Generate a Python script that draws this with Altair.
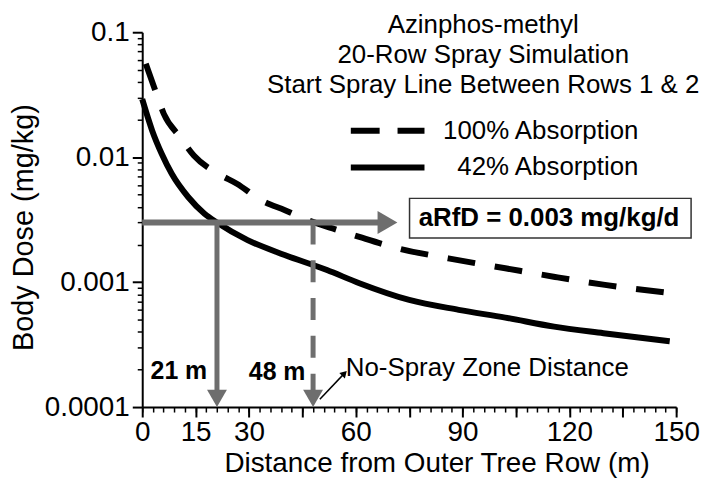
import altair as alt
import pandas as pd

# ---------------- data ----------------
dist_100 = [1, 3.7, 6.1, 10.7, 14.5, 21.4, 26.6, 33.5, 40.1, 46.6, 53.5, 61, 72, 86, 102, 116, 130, 148]
dose_100 = [0.056, 0.034, 0.0221, 0.0144, 0.0103, 0.00736, 0.00613, 0.00451, 0.00376, 0.00313,
            0.00269, 0.0023, 0.00186, 0.00155, 0.00129, 0.0011, 0.00095, 0.00082]
dist_42 = [0, 2.8, 5.5, 8.3, 12.9, 17.5, 21, 29.6, 40, 51.9, 61, 75, 88.9, 102, 115.7, 129.6, 148.2]
dose_42 = [0.0291, 0.0163, 0.0106, 0.00736, 0.0048, 0.00353, 0.003, 0.00217, 0.00165, 0.00125,
           0.00098, 0.00072, 0.0006, 0.00052, 0.00044, 0.00039, 0.000336]

x_major = [0, 15, 30, 45, 60, 75, 90, 105, 120, 135, 150]
x_hidden = [45, 75, 105, 135]
x_minor = list(range(0, 151, 3))
y_major = [0.0001, 0.001, 0.01, 0.1]
y_minor = [m * 10.0 ** e for e in (-4, -3, -2) for m in range(2, 10)]

rfd = 0.003
nsz_dists = [21, 48]
nsz_labels = ["21 m", "48 m"]
nsz_label_x = [10.3, 37.9]
nsz_label_y = [0.000193, 0.000189]
h_arrow_tip = 71.7

title_lines = ["Azinphos-methyl", "20-Row Spray Simulation", "Start Spray Line Between Rows 1 & 2"]
title_x = [95.8, 95.8, 95.8]
title_y = [0.1137, 0.0656, 0.0378]

legend_labels = ["100% Absorption", "42% Absorption"]
legend_y = [0.0163, 0.00826]
legend_x0, legend_x1, legend_text_x = 58.6, 79.3, 139.4

rfd_text = "aRfD = 0.003 mg/kg/d"
rfd_box = dict(x=75.1, x2=154.2, y=0.00468, y2=0.00225)
rfd_text_pos = (114.3, 0.00324)

nsz_text = "No-Spray Zone Distance"
nsz_text_pos = (57.2, 0.000207)
small_arrow = dict(x=49.9, y=0.0001153, x2=56.8, y2=0.000186)

FONT = "Liberation Sans"
GRAY = "#6e6e6e"

x_scale = alt.Scale(domain=[0, 150], nice=False, zero=False)
y_scale = alt.Scale(type="log", domain=[0.0001, 0.1], nice=False)


def X(f, **kw):
    return alt.X(f, type="quantitative", scale=x_scale, **kw)


def Y(f, **kw):
    return alt.Y(f, type="quantitative", scale=y_scale, **kw)


curves = pd.DataFrame({
    "dist": dist_100 + dist_42,
    "dose": dose_100 + dose_42,
    "series": ["100%"] * len(dist_100) + ["42%"] * len(dist_42),
})

hidden_expr = " || ".join(f"datum.value == {v}" for v in x_hidden)

x_axis_major = alt.Axis(
    orient="bottom", values=x_major, tickSize=10, tickWidth=2, tickColor="black",
    domainColor="black", domainWidth=2, grid=False,
    labelFont=FONT, labelFontSize=28, labelColor="black", labelPadding=2,
    labelExpr=f"({hidden_expr}) ? '' : datum.label", labelFlush=False, labelOverlap=False,
    title="Distance from Outer Tree Row (m)", titleFont=FONT, titleFontSize=28,
    titleFontWeight="normal", titleColor="black", titleX=296, titleY=65,
    titleAlign="center", titleBaseline="alphabetic",
)
y_axis_major = alt.Axis(
    orient="left", values=y_major, format="~g", tickSize=10, tickWidth=2, tickColor="black",
    domainColor="black", domainWidth=2, grid=False,
    labelFont=FONT, labelFontSize=28, labelColor="black", labelPadding=3,
    labelFlush=False, labelOverlap=False,
    title="Body Dose (mg/kg)", titleFont=FONT, titleFontSize=29, titleFontWeight="normal",
    titleColor="black", titleAngle=270, titleX=-110, titleY=196,
    titleAlign="center", titleBaseline="alphabetic",
)
x_axis_minor = alt.Axis(orient="bottom", values=x_minor, tickSize=5, tickWidth=1.5,
                        tickColor="black", domain=False, labels=False, title=None, grid=False)
y_axis_minor = alt.Axis(orient="left", values=y_minor, tickSize=5, tickWidth=1.5,
                        tickColor="black", domain=False, labels=False, title=None, grid=False)

base = alt.Chart(curves)

line_100 = base.transform_filter("datum.series == '100%'").mark_line(
    color="black", strokeWidth=6, strokeDash=[28, 20], strokeCap="butt", interpolate="monotone"
).encode(x=X("dist", axis=x_axis_major), y=Y("dose", axis=y_axis_major))

line_42 = base.transform_filter("datum.series == '42%'").mark_line(
    color="black", strokeWidth=6, interpolate="monotone"
).encode(x=X("dist", axis=x_axis_minor), y=Y("dose", axis=y_axis_minor))

# gray arrows
h_df = pd.DataFrame({"x": [0], "x2": [h_arrow_tip], "y": [rfd]})
h_rule = alt.Chart(h_df).mark_rule(color=GRAY, strokeWidth=6, x2Offset=-18).encode(
    x=X("x", axis=None), x2="x2", y=Y("y", axis=None))
h_head = alt.Chart(h_df).mark_point(shape="triangle-right", size=529, filled=True, opacity=1,
                                    color=GRAY, xOffset=-10).encode(
    x=X("x2", axis=None), y=Y("y", axis=None))

v_df = pd.DataFrame({"x": nsz_dists, "y": [rfd, rfd], "y2": [0.0001, 0.0001],
                     "label": nsz_labels, "lx": nsz_label_x, "ly": nsz_label_y})
v_rule_21 = alt.Chart(v_df).transform_filter("datum.x == 21").mark_rule(
    color=GRAY, strokeWidth=5, y2Offset=-14).encode(x=X("x", axis=None), y=Y("y", axis=None), y2="y2")
v_rule_48 = alt.Chart(v_df).transform_filter("datum.x == 48").mark_rule(
    color=GRAY, strokeWidth=5, strokeDash=[22, 16], y2Offset=-14).encode(
    x=X("x", axis=None), y=Y("y", axis=None), y2="y2")
v_heads = alt.Chart(v_df).mark_point(shape="triangle-down", size=400, filled=True, opacity=1,
                                     color=GRAY, yOffset=-8.7).encode(
    x=X("x", axis=None), y=Y("y2", axis=None))
v_labels = alt.Chart(v_df).mark_text(font=FONT, fontSize=25, fontWeight="bold", color="black",
                                     baseline="middle", align="center").encode(
    x=X("lx", axis=None), y=Y("ly", axis=None), text="label")

# small black arrow + label
sa_df = pd.DataFrame([small_arrow])
sa_rule = alt.Chart(sa_df).mark_rule(color="black", strokeWidth=1.5).encode(
    x=X("x", axis=None), x2="x2", y=Y("y", axis=None), y2="y2")
sa_head = alt.Chart(sa_df).mark_point(shape="triangle-up", size=60, angle=44, filled=True,
                                      opacity=1, color="black").encode(
    x=X("x2", axis=None), y=Y("y2", axis=None))
nsz_df = pd.DataFrame({"x": [nsz_text_pos[0]], "y": [nsz_text_pos[1]], "t": [nsz_text]})
nsz_label = alt.Chart(nsz_df).mark_text(font=FONT, fontSize=26, color="black", align="left",
                                        baseline="middle").encode(
    x=X("x", axis=None), y=Y("y", axis=None), text="t")

# aRfD box
box_df = pd.DataFrame([rfd_box])
box = alt.Chart(box_df).mark_rect(fill="white", stroke="#333333", strokeWidth=1.5).encode(
    x=X("x", axis=None), x2="x2", y=Y("y", axis=None), y2="y2")
rfd_df = pd.DataFrame({"x": [rfd_text_pos[0]], "y": [rfd_text_pos[1]], "t": [rfd_text]})
rfd_label = alt.Chart(rfd_df).mark_text(font=FONT, fontSize=26, fontWeight="bold", color="black",
                                        align="center", baseline="middle").encode(
    x=X("x", axis=None), y=Y("y", axis=None), text="t")

# title block
t_df = pd.DataFrame({"x": title_x, "y": title_y, "t": title_lines})
titles = alt.Chart(t_df).mark_text(font=FONT, fontSize=26, color="black", align="center",
                                   baseline="middle").encode(
    x=X("x", axis=None), y=Y("y", axis=None), text="t")

# legend
lg_df = pd.DataFrame({"x": [legend_x0] * 2, "x2": [legend_x1] * 2, "y": legend_y,
                      "tx": [legend_text_x] * 2, "t": legend_labels})
lg_dash = alt.Chart(lg_df).transform_filter("datum.t == '100% Absorption'").mark_rule(
    color="black", strokeWidth=6, strokeDash=[29, 18], strokeCap="butt").encode(
    x=X("x", axis=None), x2="x2", y=Y("y", axis=None))
lg_solid = alt.Chart(lg_df).transform_filter("datum.t == '42% Absorption'").mark_rule(
    color="black", strokeWidth=6, strokeCap="butt").encode(
    x=X("x", axis=None), x2="x2", y=Y("y", axis=None))
lg_text = alt.Chart(lg_df).mark_text(font=FONT, fontSize=26, color="black", align="right",
                                     baseline="middle").encode(
    x=X("tx", axis=None), y=Y("y", axis=None), text="t")

chart = alt.layer(
    line_100, line_42,
    h_rule, v_rule_21, v_rule_48, h_head, v_heads,
    sa_rule, sa_head,
    box, rfd_label, v_labels, nsz_label, titles,
    lg_dash, lg_solid, lg_text,
).resolve_axis(x="independent", y="independent").properties(
    width=537, height=377,
    padding={"left": 135, "top": 23, "right": 25, "bottom": 73},
    autosize=alt.AutoSizeParams(type="none"),
    background="white",
).configure_view(stroke=None)

chart.save("out.html", embed_options={"renderer": "svg", "actions": False})
